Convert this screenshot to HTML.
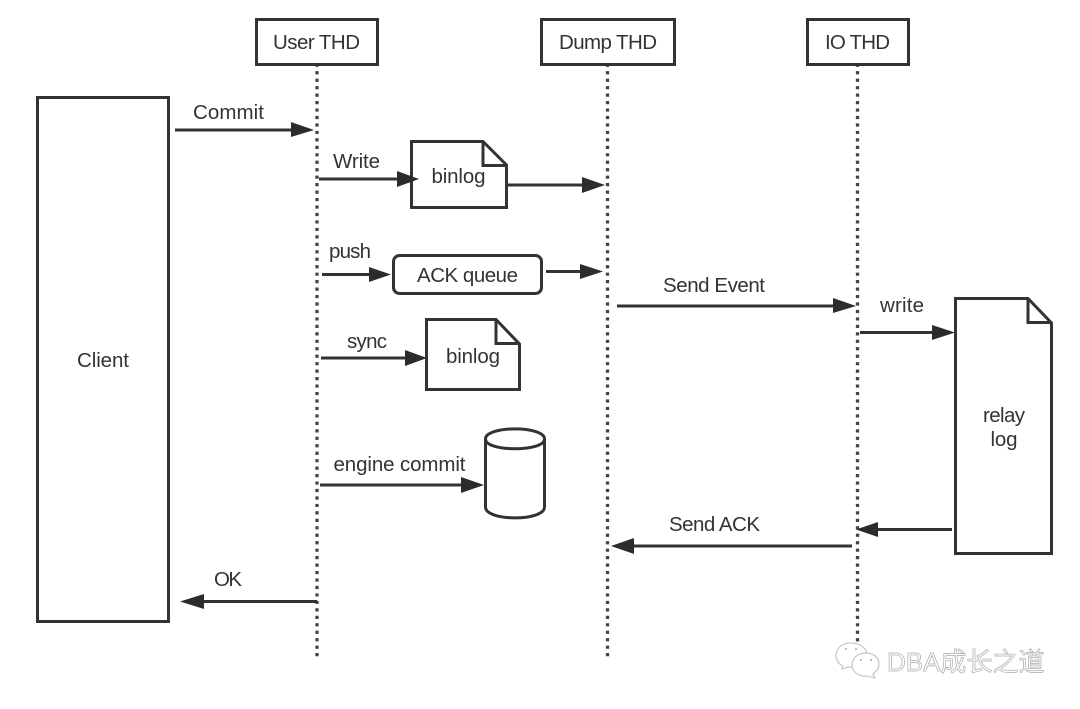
<!DOCTYPE html>
<html><head><meta charset="utf-8"><style>
html,body{margin:0;padding:0;background:#fff;width:1080px;height:709px;overflow:hidden}
svg{display:block;filter:blur(0.35px)}
text{font-family:"Liberation Sans","Noto Sans CJK SC",sans-serif;font-size:20.5px;fill:#333;text-anchor:middle}
.b{fill:#fff;stroke:#333;stroke-width:3}
.l{stroke:#333;stroke-width:3;fill:none}
.d{stroke:#444;stroke-width:3.3;stroke-dasharray:3.2 4.26;fill:none}
.a{fill:#2c2c2c}
</style></head><body>
<svg width="1080" height="709" viewBox="0 0 1080 709" xmlns="http://www.w3.org/2000/svg">
<line class="d" x1="317" y1="63.700" x2="317" y2="658"/>
<line class="d" x1="607.500" y1="63.700" x2="607.500" y2="658"/>
<line class="d" x1="857.500" y1="63.700" x2="857.500" y2="650"/>

<rect class="b" x="256.500" y="19.500" width="121" height="45"/>
<text x="316.500" y="49" textLength="87">User THD</text>
<rect class="b" x="541.500" y="19.500" width="133" height="45"/>
<text x="608" y="49" textLength="98">Dump THD</text>
<rect class="b" x="807.500" y="19.500" width="101" height="45"/>
<text x="857.500" y="49" textLength="65">IO THD</text>

<rect class="b" x="37.500" y="97.500" width="131" height="524"/>
<text x="103" y="367" textLength="52">Client</text>

<!-- Commit -->
<line class="l" x1="175" y1="130" x2="295" y2="130"/>
<polygon class="a" points="291,122 314,130 291,137"/>
<text x="228.500" y="119" textLength="71">Commit</text>

<!-- Write -->
<path class="b" d="M411.500 141.500H483L506.500 165V207.500H411.500Z"/>
<path class="l" d="M483 141.500V165.500H506.500"/>
<text x="458.500" y="183" textLength="54">binlog</text>
<line class="l" x1="319" y1="179" x2="400" y2="179"/>
<polygon class="a" points="397,171 419,179 397,187"/>
<text x="356.500" y="168" textLength="47">Write</text>
<line class="l" x1="507" y1="185" x2="590" y2="185"/>
<polygon class="a" points="582,177 605,185 582,193"/>

<!-- push -->
<line class="l" x1="322" y1="274.500" x2="375" y2="274.500"/>
<polygon class="a" points="369,267 391,274.500 369,282"/>
<text x="350" y="258" textLength="42">push</text>
<rect class="b" x="393.500" y="255.500" width="148" height="38" rx="6"/>
<text x="467.500" y="282" textLength="101">ACK queue</text>
<line class="l" x1="546" y1="271.500" x2="585" y2="271.500"/>
<polygon class="a" points="580,264 603,271.500 580,279"/>

<!-- Send Event -->
<line class="l" x1="617" y1="306" x2="838" y2="306"/>
<polygon class="a" points="833,298 856,306 833,313"/>
<text x="714" y="292" textLength="102">Send Event</text>

<!-- write -->
<path class="b" d="M955.500 298.500H1028L1051.500 323V553.500H955.500Z"/>
<path class="l" d="M1028 298.500V322.500H1051.500"/>
<line class="l" x1="860" y1="332.500" x2="938" y2="332.500"/>
<polygon class="a" points="932,325 955,332.500 932,340"/>
<text x="902" y="312" textLength="44">write</text>
<text x="1004" y="422" textLength="42">relay</text>
<text x="1004" y="446" textLength="27">log</text>

<!-- sync -->
<path class="b" d="M426.500 319.500H496L519.500 344V389.500H426.500Z"/>
<path class="l" d="M496 319.500V343.500H519.500"/>
<text x="473" y="363" textLength="54">binlog</text>
<line class="l" x1="321" y1="358" x2="412" y2="358"/>
<polygon class="a" points="405,350 427,358 405,366"/>
<text x="367" y="348" textLength="40">sync</text>

<!-- engine commit -->
<path class="b" d="M485.500 439C485.500 425.500 544.500 425.500 544.500 439V507C544.500 521.500 485.500 521.500 485.500 507Z"/>
<path class="l" d="M485.500 439C485.500 452 544.500 452 544.500 439"/>
<line class="l" x1="320" y1="485" x2="468" y2="485"/>
<polygon class="a" points="461,477 484,485 461,493"/>
<text x="399.500" y="471" textLength="132">engine commit</text>

<!-- Return ACK -->
<line class="l" x1="872" y1="529.500" x2="952" y2="529.500"/>
<polygon class="a" points="878,522 856,529.500 878,537"/>

<!-- Send ACK -->
<line class="l" x1="628" y1="546" x2="852" y2="546"/>
<polygon class="a" points="634,538 611,546 634,554"/>
<text x="714.500" y="531" textLength="91">Send ACK</text>

<!-- OK -->
<line class="l" x1="198" y1="601.500" x2="317" y2="601.500"/>
<polygon class="a" points="204,594 180,601.500 204,609"/>
<text x="228" y="586" textLength="28">OK</text>

<!-- Watermark -->
<g fill="#fff" stroke="#bbb" stroke-width="1">
<path d="M851 643C840 643 836 650 836 656C837 662 840 665 843 666L842 669L848 667C856 668 867 662 867 655C867 648 860 643 851 643Z"/>
<path d="M866 653C857 653 852 659 852 665C852 672 859 677 867 676L875 678L873 674C877 671 879 668 879 664C879 658 874 653 866 653Z"/>
</g>
<circle cx="846" cy="649" r="1" fill="#aaa"/><circle cx="856" cy="649" r="1" fill="#aaa"/>
<circle cx="861" cy="660" r="1" fill="#aaa"/><circle cx="871" cy="660" r="1" fill="#aaa"/>
<text x="887" y="671" style="font-size:26px;fill:#fff;stroke:#aaa;stroke-width:.7px;text-anchor:start">DBA成长之道</text>
</svg>
</body></html>
